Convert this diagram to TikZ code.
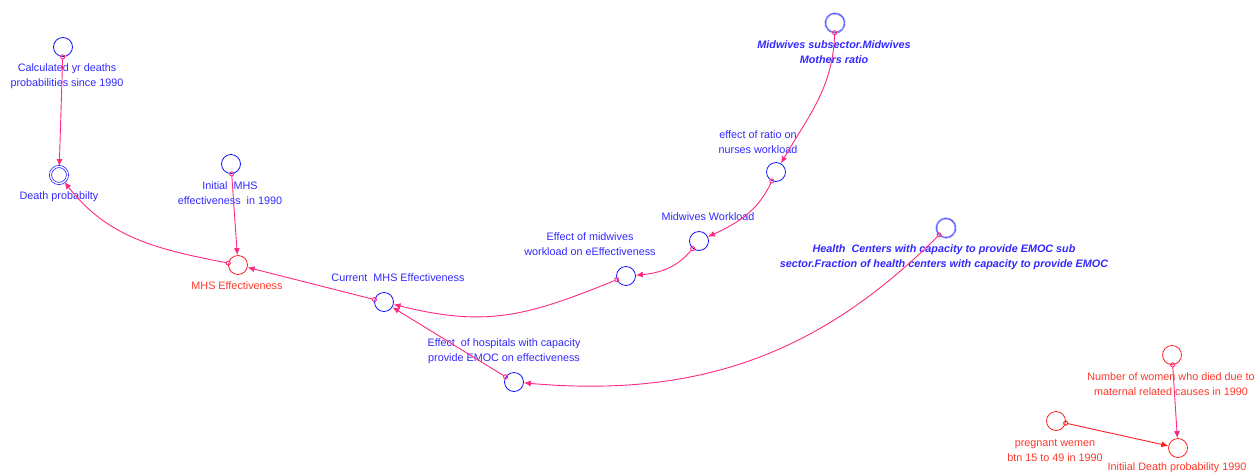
\documentclass[tikz,border=0pt]{standalone}
\usepackage{fontspec}
\setmainfont{Liberation Sans}
\usetikzlibrary{arrows.meta,decorations.pathmorphing}
\definecolor{vblue}{RGB}{20,20,255}
\definecolor{gblue}{RGB}{90,90,255}
\definecolor{tblue}{RGB}{50,40,255}
\definecolor{vred}{RGB}{255,30,30}
\definecolor{tred}{RGB}{255,55,40}
\definecolor{conn}{RGB}{255,40,130}
\tikzset{
  var/.style={circle,draw=vblue,line width=0.8pt,minimum size=19pt,inner sep=0pt},
  rvar/.style={var,draw=vred},
  ghost/.style={var,draw=gblue,line width=0.45pt,decorate,decoration={zigzag,segment length=1.2pt,amplitude=0.7pt}},
  lbl/.style={text=tblue,align=center,inner sep=0pt,font=\fontsize{10.8}{15}\selectfont},
  rlbl/.style={lbl,text=tred},
  glbl/.style={lbl,font=\fontsize{10.8}{15}\selectfont\bfseries\itshape},
  link/.style={draw=conn,line width=0.9pt,shorten <=-2.5pt,
    {Circle[open,length=5pt,width=5pt,line width=0.9pt]}-{Latex[length=7pt,width=6pt]}},
  rlink/.style={link,draw=vred}
}
\begin{document}
\begin{tikzpicture}[x=1pt,y=-1pt]
\useasboundingbox (0,0) rectangle (1257,472);
% variables
\node[var] (cal) at (63,47) {};
\node[var,double=white,double distance=1.4pt,line width=0.7pt,minimum size=17pt] (dp) at (59,175) {};
\node[var] (imhs) at (231,164) {};
\node[rvar] (mhse) at (238,265) {};
\node[var] (cur) at (384,302) {};
\node[var] (emw) at (626,276) {};
\node[var] (mw) at (699,241) {};
\node[var] (eh) at (514,382) {};
\node[ghost] (msr) at (835,23) {};
\node[var] (er) at (776,172) {};
\node[ghost] (hc) at (946,228) {};
\node[rvar] (nw) at (1172,355) {};
\node[rvar] (pw) at (1056,421) {};
\node[rvar] (idp) at (1178,448) {};
% labels
\node[lbl] (calL) at (67,76.5) {Calculated yr deaths\\probabilities since 1990};
\node[lbl] (dpL) at (59,197) {Death probabilty};
\node[lbl] (imhsL) at (230,193.5) {Initial\ \ MHS\\effectiveness\ \ in 1990};
\node[rlbl] (mhseL) at (237,286) {MHS Effectiveness};
\node[lbl] (curL) at (398,278) {Current\ \ MHS Effectiveness};
\node[lbl] (emwL) at (590,244.5) {Effect of midwives\\workload on eEffectiveness};
\node[lbl] (mwL) at (708,217) {Midwives Workload};
\node[lbl] (erL) at (758,142.5) {effect of ratio on\\nurses workload};
\node[glbl] (msrL) at (834,52) {Midwives subsector.Midwives\\Mothers ratio};
\node[lbl] (ehL) at (504,351.5) {Effect\ \ of hospitals with capacity\\provide EMOC on effectiveness};
\node[glbl] (hcL) at (944,257) {Health\ \ Centers with capacity to provide EMOC sub\\sector.Fraction of health centers with capacity to provide EMOC};
\node[rlbl] (nwL) at (1171,384.5) {Number of women who died due to\\maternal related causes in 1990};
\node[rlbl] (pwL) at (1055,450.5) {pregnant wemen\\btn 15 to 49 in 1990};
\node[rlbl] (idpL) at (1177,468) {Initiial Death probability 1990};
% connectors
\draw[link] (cal) -- (dp);
\draw[link] (imhs) -- (mhse);
\draw[link] (mhse) to[out=169,in=-52] (dp);
\draw[link] (cur) -- (mhse);
\draw[link] (emw) to[out=-158,in=-14,looseness=1.1] (cur);
\draw[link] (mw) to[out=-130,in=5] (emw);
\draw[link] (er) to[out=-115,in=25] (mw);
\draw[link] (msr) to[out=-92,in=60] (er);
\draw[link] (hc) to[out=-135,in=-5] (eh);
\draw[link] (eh) -- (cur);
\draw[link] (nw) -- (idp);
\draw[rlink] (pw) -- (idp);
\end{tikzpicture}
\end{document}
